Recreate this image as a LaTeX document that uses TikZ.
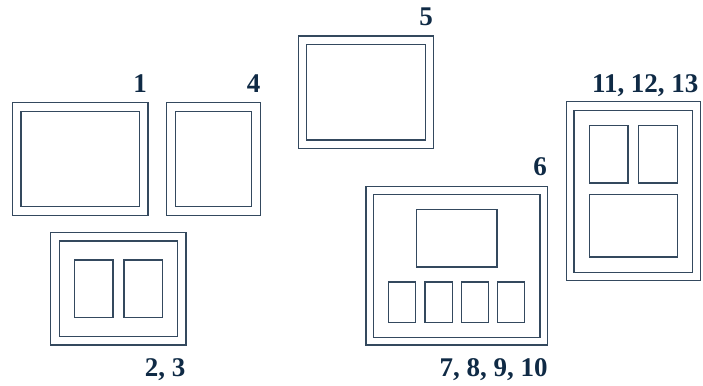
\documentclass[tikz,border=0pt]{standalone}
\usepackage{fontspec}
\setmainfont{Liberation Serif}
\definecolor{navy}{HTML}{0F2A45}
\definecolor{frameline}{HTML}{34495E}
\tikzset{
  frame/.style={draw=frameline, line width=1.1pt},
  opening/.style={draw=frameline, line width=1.1pt},
  tag/.style={font=\fontsize{27}{31}\selectfont\bfseries, text=navy, inner sep=0pt}
}
\begin{document}
\begin{tikzpicture}[x=1pt, y=-1pt]
  \useasboundingbox (0,0) rectangle (703,385);
  % frame 1
  \draw[frame] (12.7,102.7) rectangle (148,215.3);
  \draw[frame] (21,111.3) rectangle (139.3,206.7);
  \node[tag, anchor=base east] (l1) at (147,92.3) {1};
  % frame 4
  \draw[frame] (166.7,102.7) rectangle (260.3,215.3);
  \draw[frame] (175.3,111.3) rectangle (251.7,206.7);
  \node[tag, anchor=base east] (l4) at (260.5,92.3) {4};
  % frame 2, 3
  \draw[frame] (50.7,232.7) rectangle (186,345);
  \draw[frame] (59.3,241) rectangle (177.7,336.3);
  \draw[opening] (74.3,260) rectangle (113,317.3);
  \draw[opening] (124,260) rectangle (162.7,317.3);
  \node[tag, anchor=base east] (l23) at (185.5,376.7) {2, 3};
  % frame 5
  \draw[frame] (298.3,36) rectangle (433.7,148.3);
  \draw[frame] (306.7,44.3) rectangle (425.3,140);
  \node[tag, anchor=base east] (l5) at (433,26) {5};
  % frame 6 with 7-10
  \draw[frame] (366,186.7) rectangle (547.7,345);
  \draw[frame] (373.3,194.3) rectangle (540,337.3);
  \draw[opening] (416.3,209.3) rectangle (497,267);
  \draw[opening] (388.3,282) rectangle (415.7,322.3);
  \draw[opening] (425,282) rectangle (452.3,322.3);
  \draw[opening] (461.3,282) rectangle (488.7,322.3);
  \draw[opening] (497.3,282) rectangle (524.7,322.3);
  \node[tag, anchor=base east] (l6) at (547,175.7) {6};
  \node[tag, anchor=base east] (l710) at (547.7,376.7) {7, 8, 9, 10};
  % frame 11, 12, 13
  \draw[frame] (566.7,101.7) rectangle (700.7,280.7);
  \draw[frame] (574,110.7) rectangle (692.7,272.7);
  \draw[opening] (589.3,125.7) rectangle (628,183);
  \draw[opening] (638.3,125.7) rectangle (677.3,183);
  \draw[opening] (589.3,194.3) rectangle (677.3,257);
  \node[tag, anchor=base east] (l1113) at (698.7,92.3) {11, 12, 13};
\end{tikzpicture}
\end{document}
